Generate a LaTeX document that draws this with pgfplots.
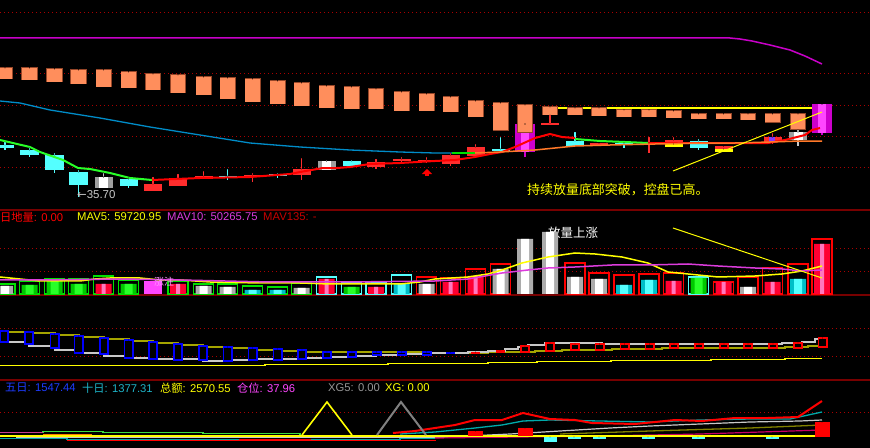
\documentclass[border=0pt]{standalone}
\usepackage{pgfplots}
\pgfplotsset{compat=1.18}
\usepackage{pgfplotstable}
\usepackage{fontspec}
\setmainfont{Liberation Sans}
\newfontfamily\cjk{Noto Sans CJK SC}
\newfontfamily\dejavu{DejaVu Sans}
\usetikzlibrary{arrows.meta}

\definecolor{orangeC}{RGB}{255,142,92}
\definecolor{orangeE}{RGB}{150,70,40}
\definecolor{cyanC}{RGB}{84,255,255}
\definecolor{redC}{RGB}{255,45,45}
\definecolor{vred}{RGB}{255,0,50}
\definecolor{vpink}{RGB}{255,120,190}
\definecolor{greenC}{RGB}{0,225,0}
\definecolor{greenL}{RGB}{40,255,40}
\definecolor{greenD}{RGB}{0,200,0}
\definecolor{greenM}{RGB}{60,220,60}
\definecolor{magC}{RGB}{205,0,205}
\definecolor{magL}{RGB}{255,70,255}
\definecolor{magT}{RGB}{255,150,255}
\definecolor{darkredC}{RGB}{120,0,0}
\definecolor{gridred}{RGB}{170,0,0}
\definecolor{tealC}{RGB}{0,140,200}
\definecolor{tealB}{RGB}{0,170,170}
\definecolor{purpleL}{RGB}{200,0,200}
\definecolor{yellowC}{RGB}{255,255,0}
\definecolor{oliveC}{RGB}{165,165,0}
\definecolor{oliveD}{RGB}{130,130,0}
\definecolor{blueC}{RGB}{0,0,255}
\definecolor{orangeL}{RGB}{255,120,40}
\definecolor{greyC}{RGB}{200,200,200}
\definecolor{greyT}{RGB}{150,150,150}
\definecolor{mavmag}{RGB}{220,60,220}
\definecolor{pinkD}{RGB}{200,60,140}
\definecolor{magD}{RGB}{200,0,100}
\definecolor{titleblue}{RGB}{30,60,255}
\definecolor{titlecyan}{RGB}{30,180,200}
\definecolor{mav135}{RGB}{200,0,0}
\definecolor{vcyanD}{RGB}{0,190,200}
\definecolor{purpSq}{RGB}{130,60,255}

% ---------- price panel ----------
\pgfplotstableread{
x t b
5 68 79
29.5 68 80
54.5 69 82
78.5 70 84
103.5 70 87
128.5 72 88
153 74 90
178 75 93
203.5 77 95
227.5 78 99
252.5 79 102
277.5 81 104
301.5 83 106
326.5 86 108
351.5 87 109
376 89 109
401.5 92 111
426.5 94 111
450.5 97 112
475.5 101 117
500.5 103 130
525 105 132
550 107 115
575 108 115
599 108 116
624 110 117
649 110 117
673.5 111 118
698.5 114 119
723.5 114 119
748 114 120
772.5 114 122
798 114 129
}\tblOrange

\pgfplotstableread{
x t b wt wb
5 145 148 142 150
29.5 150 155 148 157
54.5 155 170 153 173
78.5 172 185 170 197
128.5 179 186 178 188
227.5 176 177 169 180
277.5 174 176 173 178
351.5 161 166 160 167
500.5 149 151 137 153
575 141 146 132 146
624 143 145 143 148
698.5 141 148 139 150
}\tblCyan

\pgfplotstableread{
x t b wt wb
153 184 191 177 191
178 178 186 174 186
203.5 176 179 171 179
252.5 175 177 173 182
301.5 169 175 158 180
376 162 167 159 169
401.5 159 161 157 163
426.5 160 161 157 163
450.5 155 164 153 166
475.5 147 156 144 157
550 123.3 124.7 115 124
599 143 145 143 145
649 143 144 137 153
673.5 140 144 137 147
723.5 146 149 146 149
748 142 144 142 144
772.5 137 142 133 144
}\tblRed

\pgfplotstableread{
x t b wt wb
103.5 177 188 173 188
326.5 161 170 160 170
798 132 140 130 146
}\tblWhite

\pgfplotstableread{
x t b wt wb
525 124 152 124 157
822 104 133 104 135
}\tblMag

\pgfplotstableread{
x t b
673.5 144 147
723.5 149 152
}\tblYel

% ---------- panel 3 ----------
\pgfplotstableread{
x t b
4 331 342
29 332 344
54.5 334 348
78.5 336 353
104 338 354
128.5 340 358
153 342 359
178 344 360
203 346 360
227.5 347 361
252.5 348 360
277.5 349 360
302 350 359
327 352 358
352 352 357
376.5 352 355
401.5 352 355
426.5 352 355
}\tblBlueBox

\pgfplotstableread{
x t b
525 346 352
550 343 351
575 344 350
599.5 344 350
624.5 344 349
649.5 344 349
674 344 348
699 344 348
724 344 348
748 344 348
773 344 348
798 343 348
822.5 338 347
}\tblRedBox

% ---------- panel 4 bars ----------
\pgfplotstableread{
x t b
475.5 431 435.5
525 428 435.5
822 422 437
}\tblPfRed
\pgfplotstableread{
x t b
550 437 442
574 437 438.6
599 437 439
648 437 438.6
698 437 438.6
772 437 438.6
}\tblPfCyan

% ---------- volume panel (value = 294 - pixel) ----------
\pgfplotstableread{
x v
29.5 9
54.5 13
78.5 10
128.5 10
351.5 7
698.5 16
}\volGreen
\pgfplotstableread{
x v
103.5 10
178 10
326.5 15
376 7
450.5 12
475.5 18
673.5 13
723.5 12
772.5 12
822 50
}\volRed
\pgfplotstableread{
x v
5 8
203.5 8
227.5 7
301.5 6
426.5 10
500.5 25
525 55
550 62
575 17
599 15
748 7
}\volWhite
\pgfplotstableread{
x v
252.5 4
277.5 4
401.5 10
624 9
649 14
798 15
}\volCyan
\pgfplotstableread{
x v
153 13
}\volMag
\pgfplotstableread{
x v
5 10
29.5 13
54.5 15
78.5 15
103.5 18
128.5 14
178 13
203.5 10
227.5 10
252.5 8
277.5 7
301.5 11
}\outGreen
\pgfplotstableread{
x v
326.5 17
351.5 12
376 12
401.5 19
698.5 17
}\outCyan
\pgfplotstableread{
x v
426.5 17
450.5 16
475.5 25
500.5 30
575 31
599 21
624 19
649 20
673.5 21
723.5 12
748 17
772.5 26
798 30
822 55
}\outRed

\pgfplotsset{
  boxes/.style 2 args={only marks, mark=*, mark size=0.01pt, mark options={draw=none, fill=none}, forget plot,
    error bars/.cd, y dir=plus, y explicit, error mark=none,
    error bar style={line width=#1, draw=#2}},
}
% body drawn as one segment from top t to bottom b (pixel rows, y reversed)
\newcommand{\bodyplot}[4]{% width, color, table, extra
  \addplot[boxes={#1}{#2}] table[x=x, y expr={\thisrow{t}-#4}, y error expr={\thisrow{b}-\thisrow{t}+2*#4}] {#3};}
\newcommand{\wickplot}[2]{%
  \addplot[boxes={1.2bp}{#1}] table[x=x, y=wt, y error expr={\thisrow{wb}-\thisrow{wt}}] {#2};}

\begin{document}
\begin{tikzpicture}
\useasboundingbox (0,0) rectangle (870bp,448bp);
\clip (0,0) rectangle (870bp,448bp);
\fill[black] (0,0) rectangle (870bp,448bp);

\begin{axis}[at={(0,0)}, anchor=south west, scale only axis, width=870bp, height=448bp,
  xmin=0, xmax=870, ymin=0, ymax=448, y dir=reverse, hide axis]

% dotted grid lines
\pgfplotsinvokeforeach{12.7,74,105.3,136.3,167.3,248,271,328,356,412}{
  \addplot[gridred, line width=1bp, dash pattern=on 1.2bp off 2.8bp, forget plot] coordinates {(0,#1) (870,#1)};}
% separators
\addplot[darkredC, line width=2bp] coordinates {(0,209.5) (870,209.5)};
\addplot[darkredC, line width=2bp] coordinates {(0,295) (870,295)};
\addplot[darkredC, line width=2bp] coordinates {(0,379.5) (870,379.5)};

% ===== panel 1 =====
\addplot[purpleL, line width=1.5bp] coordinates {(0,38) (730,38) (740,39) (752,41) (770,45) (790,50) (805,56) (822,64)};
\addplot[tealC, line width=1.3bp] coordinates {(0,101) (20,103) (50,110) (100,118) (150,127) (200,135) (250,143) (300,147) (350,150) (400,152) (435,153) (452,153)};
\addplot[yellowC, line width=1.2bp] coordinates {(557,108) (812,108)};
% magenta big candles (behind orange boxes)
\wickplot{magC}{\tblMag}
\bodyplot{20bp}{magC}{\tblMag}{0}
\bodyplot{8bp}{magL}{\tblMag}{0}
% orange boxes with a thin dark edge
\bodyplot{16bp}{orangeE}{\tblOrange}{0.5}
\bodyplot{14.5bp}{orangeC}{\tblOrange}{-0.2}
% candles
\wickplot{cyanC}{\tblCyan}
\wickplot{redC}{\tblRed}
\wickplot{greyC}{\tblWhite}
\bodyplot{18bp}{cyanC}{\tblCyan}{0}
\bodyplot{18bp}{redC}{\tblRed}{0}
\bodyplot{18bp}{gray!75}{\tblWhite}{0}
\bodyplot{9bp}{white}{\tblWhite}{0}
\bodyplot{18bp}{yellowC}{\tblYel}{0}
\addplot[boxes={6bp}{purpSq}] coordinates {(772,137) +- (0,5)};
% moving averages
\addplot[greenL, line width=2bp] coordinates {(0,140) (30,147) (40,152) (63,160) (78,168) (90,169) (110,173) (130,178) (152,180)};
\addplot[red, line width=2bp] coordinates {(152,180) (200,178) (250,177) (290,174) (300,172) (323,168) (337,168) (350,167) (370,164) (400,163) (435,161) (455,160) (475,157) (490,154) (502,152) (515,147) (535,138) (550,134) (562,137) (575,138)};
\addplot[greenL, line width=2bp] coordinates {(575,139) (600,141) (625,142) (648,143)};
\addplot[red, line width=2bp] coordinates {(648,143) (700,143) (768,143) (785,140) (805,135) (812,130) (820,128)};
\addplot[greenC, line width=1.5bp] coordinates {(452,153) (475,153)};
\addplot[orangeL, line width=1.5bp] coordinates {(475,153) (500,152) (535,150) (555,148) (575,146) (610,145) (655,144) (700,143) (735,143) (770,142) (800,141) (822,141)};
\addplot[yellowC, line width=1bp] coordinates {(673,171) (822,112)};
\addplot[red, line width=3.5bp, -{Triangle[length=5bp, width=10bp]}] coordinates {(427,176) (427,169)};

\node[anchor=west, inner sep=0, text=greyC, font=\fontsize{11.5}{12}\selectfont] at (axis cs:77,195) {{\dejavu ←}35.70};
\node[anchor=west, inner sep=0, text=yellowC, font=\cjk\fontsize{13}{14}\selectfont] at (axis cs:527,190) {持续放量底部突破，控盘已高。};

% ===== panel 2 titles =====
\node[anchor=west, inner sep=0, text=red, font=\fontsize{11.3}{12}\selectfont] at (axis cs:0,217) {{\cjk 日地量}: 0.00};
\node[anchor=west, inner sep=0, text=yellowC, font=\fontsize{11.3}{12}\selectfont] at (axis cs:77,217) {MAV5: 59720.95};
\node[anchor=west, inner sep=0, text=mavmag, font=\fontsize{11.3}{12}\selectfont] at (axis cs:167,217) {MAV10: 50265.75};
\node[anchor=west, inner sep=0, text=mav135, font=\fontsize{11.3}{12}\selectfont] at (axis cs:263,217) {MAV135: -};
\node[anchor=west, inner sep=0, text=white, font=\cjk\fontsize{12.5}{13}\selectfont] at (axis cs:548,233) {放量上涨};

% ===== panel 3 =====
\addplot[const plot, oliveC, line width=2bp] coordinates {(0,331) (4,332) (29,333) (54.5,335) (78.5,337) (104,339) (128.5,341) (153,343) (178,345) (203,347) (227.5,348) (252.5,350) (277.5,351) (302,352) (327,352) (352,352) (376.5,352) (401.5,352) (426.5,352.5) (450,353) (488,352) (515,352) (535,351) (562,350) (612,349) (662,348) (735,348) (785,347) (808,346) (822,345)};
\addplot[const plot, greyC, line width=1.6bp] coordinates {(0,341) (4,342) (29,346) (54.5,350) (78.5,353) (104,356) (128.5,358) (153,359) (178,359) (203,361) (227.5,360) (252.5,359) (277.5,359) (302,358) (327,357) (352,356) (376.5,355) (401.5,354) (426.5,353) (450,353) (468,352) (488,351) (505,349) (518,347) (528,345) (545,343) (568,343) (602,344) (635,344) (700,344) (782,343) (802,342) (815,339) (822,339)};
\addplot[const plot, yellowC, line width=1.2bp] coordinates {(0,365.3) (265,364.3) (388,363.3) (488,362.3) (537,361.3) (611,360.3) (711,359.3) (785,358.3) (822,358.3)};
\bodyplot{10bp}{blueC}{\tblBlueBox}{0.9}
\bodyplot{6.5bp}{black}{\tblBlueBox}{-0.9}
\bodyplot{10bp}{red}{\tblRedBox}{0.9}
\bodyplot{6.5bp}{black}{\tblRedBox}{-0.9}
\addplot[boxes={9bp}{blueC}] coordinates {(450.5,352) +- (0,2.4)};
\addplot[boxes={9bp}{red}] coordinates {(475.5,352) +- (0,2)};
\addplot[boxes={9bp}{red}] coordinates {(500,350) +- (0,3)};

% ===== panel 4 =====
\addplot[const plot, greenM, line width=1.3bp] coordinates {(0,432.4) (43,431.7) (103,432.7) (203,433.3) (278,433.8) (300,434)};
\addplot[pinkD, line width=1.2bp] coordinates {(0,432.3) (43,432.3)};
\addplot[const plot, greyC, line width=1.2bp] coordinates {(0,436.7) (17,437.3) (67,437.6) (435,437.6)};
\addplot[greyC, line width=1.2bp] coordinates {(435,437.6) (510,434) (560,431) (610,428) (650,426) (700,424) (750,422) (800,421) (822,420)};
\addplot[const plot, tealB, line width=1.2bp] coordinates {(0,438.5) (67,439.2) (165,439.5) (240,439.5) (310,440) (400,438.5) (435,438.5)};
\addplot[const plot, red, line width=1.3bp] coordinates {(67,440.3) (165,440.6) (240,440) (310,440.6) (435,440)};
\addplot[tealB, line width=1.3bp] coordinates {(400,434) (435,432) (475,428) (502,425) (523,421) (550,420) (600,421) (650,422) (700,420) (750,419) (790,419) (822,412)};
\addplot[oliveD, line width=1.3bp] coordinates {(560,434) (650,431) (750,428) (822,425)};
\addplot[magD, line width=1.2bp] coordinates {(435,438) (520,437) (600,436) (700,434) (822,430)};
\addplot[orange, line width=1.2bp] coordinates {(43,434.3) (92,434.3)};
\addplot[yellowC, line width=2.2bp] coordinates {(0,435.6) (822,435.6)};
\addplot[red, line width=2bp] coordinates {(393,433) (415,431) (435,428) (455,425) (475,420) (502,420) (523,413) (550,419) (575,420) (592,423) (635,424) (675,420) (702,421) (735,418) (768,418) (798,417) (822,401)};
\addplot[yellowC, line width=1.6bp] coordinates {(302,435) (327,402) (352,435)};
\addplot[gray, line width=2bp] coordinates {(377,435) (401,402) (426,435)};
\bodyplot{15bp}{red}{\tblPfRed}{0}
\bodyplot{13bp}{cyanC}{\tblPfCyan}{0}

\node[anchor=west, inner sep=0, text=titleblue, font=\fontsize{11.3}{12}\selectfont] at (axis cs:5,388) {{\cjk 五日}: 1547.44};
\node[anchor=west, inner sep=0, text=titlecyan, font=\fontsize{11.3}{12}\selectfont] at (axis cs:82,388) {{\cjk 十日}: 1377.31};
\node[anchor=west, inner sep=0, text=yellowC, font=\fontsize{11.3}{12}\selectfont] at (axis cs:160,388) {{\cjk 总额}: 2570.55};
\node[anchor=west, inner sep=0, text=magL, font=\fontsize{11.3}{12}\selectfont] at (axis cs:237,388) {{\cjk 仓位}: 37.96};
\node[anchor=west, inner sep=0, text=greyT, font=\fontsize{11.3}{12}\selectfont] at (axis cs:328,388) {XG5: 0.00};
\node[anchor=west, inner sep=0, text=yellowC, font=\fontsize{11.3}{12}\selectfont] at (axis cs:385,388) {XG: 0.00};
\end{axis}

% ===== volume panel =====
\begin{axis}[at={(0,0)}, anchor=south west, scale only axis, width=870bp, height=448bp,
  xmin=0, xmax=870, ymin=-154, ymax=294, hide axis]
\addplot[ybar, bar shift=0pt, bar width=20, fill=none, draw=greenC, line width=1.2bp] table[x=x,y=v] {\outGreen};
\addplot[ybar, bar shift=0pt, bar width=20, fill=none, draw=cyanC, line width=1.2bp] table[x=x,y=v] {\outCyan};
\addplot[ybar, bar shift=0pt, bar width=20, fill=none, draw=red, line width=1.2bp] table[x=x,y=v] {\outRed};
\addplot[ybar, bar shift=0pt, bar width=16, fill=greenD, draw=none] table[x=x,y=v] {\volGreen};
\addplot[ybar, bar shift=0pt, bar width=8, fill=greenL, draw=none] table[x=x,y=v] {\volGreen};
\addplot[ybar, bar shift=0pt, bar width=16, fill=vred, draw=none] table[x=x,y=v] {\volRed};
\addplot[ybar, bar shift=0pt, bar width=4, fill=vpink, draw=none] table[x=x,y=v] {\volRed};
\addplot[ybar, bar shift=0pt, bar width=16, fill=gray!65, draw=none] table[x=x,y=v] {\volWhite};
\addplot[ybar, bar shift=0pt, bar width=8, fill=white, draw=none] table[x=x,y=v] {\volWhite};
\addplot[ybar, bar shift=0pt, bar width=16, fill=vcyanD, draw=none] table[x=x,y=v] {\volCyan};
\addplot[ybar, bar shift=0pt, bar width=8, fill=cyanC, draw=none] table[x=x,y=v] {\volCyan};
\addplot[ybar, bar shift=0pt, bar width=18, fill=magL, draw=none] table[x=x,y=v] {\volMag};
\addplot[yellowC, line width=1.5bp] coordinates {(0,17) (10,16) (20,15) (40,13) (80,13) (95,15) (110,16) (140,16) (160,14) (180,14) (210,12) (260,11) (300,11) (330,10) (400,10) (420,12) (435,15) (468,17) (488,20) (502,24) (522,31) (548,37) (575,41) (595,40) (622,37) (648,31) (668,22) (688,20) (718,17) (755,18) (782,20) (802,23) (822,28)};
\addplot[mavmag, line width=1.5bp] coordinates {(0,14) (40,14) (120,15) (180,14) (270,12) (350,12) (435,13) (468,15) (502,21) (528,24) (548,26) (575,27) (612,29) (648,29) (688,30) (718,28) (755,26) (782,25) (802,23) (822,24)};
\addplot[yellowC, line width=1bp] coordinates {(673,66) (822,16)};
\node[anchor=west, inner sep=0, text=magT, font=\cjk\fontsize{10}{11}\selectfont] at (axis cs:154,12) {涨注};
\end{axis}
\end{tikzpicture}
\end{document}
